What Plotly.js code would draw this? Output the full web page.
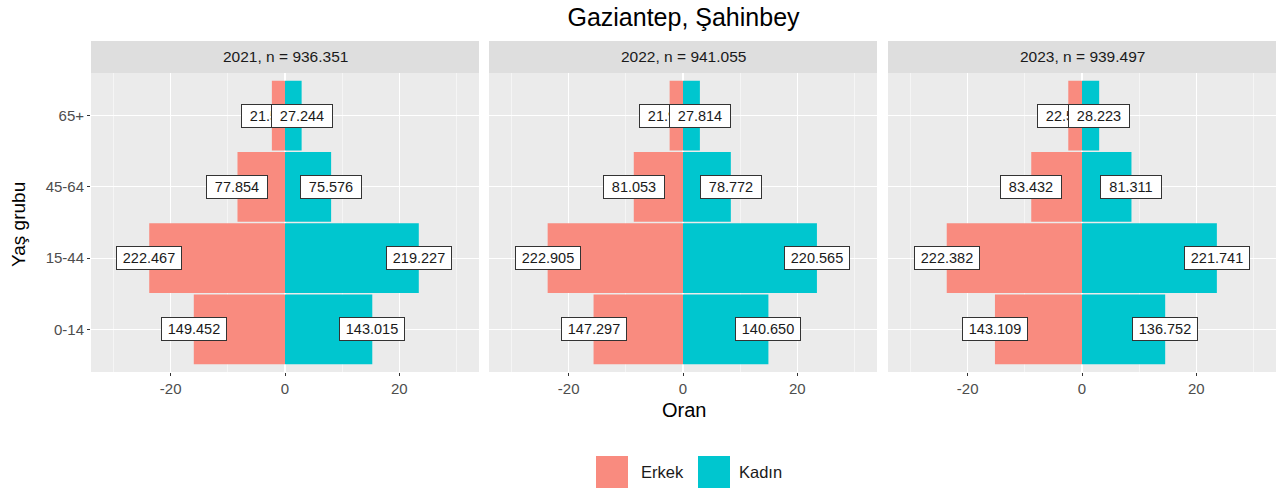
<!DOCTYPE html>
<html>
<head>
<meta charset="utf-8">
<script src="https://cdn.plot.ly/plotly-3.0.1.min.js"></script>
<style>html,body{margin:0;padding:0;background:#fff;}#chart{width:1279px;height:492px;}</style>
</head>
<body>
<div id="chart"></div>
<script>
// ---- data ----
const years = ["2021", "2022", "2023"];
const totals = [936351, 941055, 939497];
const totalLabels = ["936.351", "941.055", "939.497"];
const ageGroups = ["0-14", "15-44", "45-64", "65+"];
const male2021 = [149452, 222467, 77854, 21516];
const female2021 = [143015, 219227, 75576, 27244];
const male2022 = [147297, 222905, 81053, 21999];
const female2022 = [140650, 220565, 78772, 27814];
const male2023 = [143109, 222382, 83432, 22547];
const female2023 = [136752, 221741, 81311, 28223];
const maleLabels2021 = ["149.452", "222.467", "77.854", "21.516"];
const femaleLabels2021 = ["143.015", "219.227", "75.576", "27.244"];
const maleLabels2022 = ["147.297", "222.905", "81.053", "21.999"];
const femaleLabels2022 = ["140.650", "220.565", "78.772", "27.814"];
const maleLabels2023 = ["143.109", "222.382", "83.432", "22.547"];
const femaleLabels2023 = ["136.752", "221.741", "81.311", "28.223"];
const xTicks = [-20, 0, 20];

const maleData = [male2021, male2022, male2023];
const femaleData = [female2021, female2022, female2023];
const maleLabs = [maleLabels2021, maleLabels2022, maleLabels2023];
const femaleLabs = [femaleLabels2021, femaleLabels2022, femaleLabels2023];

const MALE = "#F98B7F", FEMALE = "#00C6CF";
const FONT = "Liberation Sans, Arial, Helvetica, sans-serif";
const W = 1279, H = 492;
const px = v => v / W;
const py = v => 1 - v / H;

const domains = [[px(91), px(479)], [px(489), px(877)], [px(888), px(1276)]];
const yDom = [py(372), py(73)];

const traces = [];
const annotations = [];
const shapes = [];
const layout = {
  width: W, height: H,
  margin: {l: 0, r: 0, t: 0, b: 0},
  paper_bgcolor: "#fff",
  plot_bgcolor: "#EBEBEB",
  barmode: "relative",
  bargap: 0.02,
  showlegend: false,
  font: {family: FONT, color: "#1A1A1A"},
  title: {text: "Gaziantep, Şahinbey", x: 683.5 / W, xanchor: "center", y: py(17), yanchor: "middle",
          font: {size: 25, family: FONT, color: "#000"}},
};

years.forEach((yr, i) => {
  const sx = i === 0 ? "" : String(i + 1);
  const xa = "x" + sx, ya = "y" + sx;
  const malePct = maleData[i].map(v => -v / totals[i] * 100);
  const femalePct = femaleData[i].map(v => v / totals[i] * 100);
  traces.push({type: "bar", orientation: "h", x: malePct, y: ageGroups, xaxis: xa, yaxis: ya,
               marker: {color: MALE}, name: "Erkek", hoverinfo: "skip"});
  traces.push({type: "bar", orientation: "h", x: femalePct, y: ageGroups, xaxis: xa, yaxis: ya,
               marker: {color: FEMALE}, name: "Kadın", hoverinfo: "skip"});
  layout["xaxis" + sx] = {
    domain: domains[i], anchor: ya, range: [-33.95, 33.95],
    tickvals: xTicks, ticktext: xTicks.map(String),
    showgrid: true, gridcolor: "#fff", gridwidth: 1.1,
    minor: {tickvals: [-30, -10, 10, 30], showgrid: true, gridcolor: "#fff", gridwidth: 0.5, ticks: ""},
    zeroline: false, ticks: "outside", ticklen: 3, tickcolor: "#333", tickwidth: 1,
    tickfont: {size: 15, color: "#4D4D4D", family: FONT}, showline: false, fixedrange: true
  };
  layout["yaxis" + sx] = {
    domain: yDom, anchor: xa, type: "category", categoryarray: ageGroups, categoryorder: "array",
    range: [-0.6, 3.6], showgrid: true, gridcolor: "#fff", gridwidth: 1.1, zeroline: false,
    showticklabels: i === 0, ticks: i === 0 ? "outside" : "", ticklen: 3, tickcolor: "#333", tickwidth: 1,
    tickfont: {size: 15, color: "#4D4D4D", family: FONT}, fixedrange: true
  };
  // strip
  shapes.push({type: "rect", xref: "paper", yref: "paper", x0: domains[i][0], x1: domains[i][1],
               y0: py(73), y1: py(41), fillcolor: "#DEDEDE", line: {width: 0}, layer: "below"});
  annotations.push({xref: "paper", yref: "paper", x: (domains[i][0] + domains[i][1]) / 2, y: py(57),
                    text: yr + ", n = " + totalLabels[i], showarrow: false,
                    font: {size: 15.5, color: "#1A1A1A", family: FONT}, xanchor: "center", yanchor: "middle"});
  // labels: male first, female on top
  const mkLabel = (xv, yv, t) => ({
    xref: xa, yref: ya, x: xv, y: yv, text: t, showarrow: false,
    font: {size: 14.5, color: "#1A1A1A", family: FONT},
    bgcolor: "#fff", bordercolor: "#333", borderwidth: 1, borderpad: 3,
    width: t.length >= 7 ? 58 : 54, align: "center", xanchor: "center", yanchor: "middle"
  });
  ageGroups.forEach((g, k) => annotations.push(mkLabel(malePct[k], g, maleLabs[i][k])));
  ageGroups.forEach((g, k) => annotations.push(mkLabel(femalePct[k], g, femaleLabs[i][k])));
});

// axis titles
annotations.push({xref: "paper", yref: "paper", x: 683.5 / W, y: py(410), text: "Oran", showarrow: false,
                  font: {size: 20, color: "#000", family: FONT}, xanchor: "center", yanchor: "middle"});
annotations.push({xref: "paper", yref: "paper", x: px(19), y: py(225), text: "Yaş grubu", showarrow: false,
                  textangle: -90, font: {size: 19, color: "#000", family: FONT}, xanchor: "center", yanchor: "middle"});

// legend
const legendItems = [{name: "Erkek", color: MALE, x0: 596, tx: 639}, {name: "Kadın", color: FEMALE, x0: 698, tx: 737}];
legendItems.forEach(it => {
  shapes.push({type: "rect", xref: "paper", yref: "paper", x0: px(it.x0), x1: px(it.x0 + 32),
               y0: py(488), y1: py(456), fillcolor: it.color, line: {width: 0}});
  annotations.push({xref: "paper", yref: "paper", x: px(it.tx), y: py(472), text: it.name, showarrow: false,
                    font: {size: 16.5, color: "#1A1A1A", family: FONT}, xanchor: "left", yanchor: "middle"});
});

layout.annotations = annotations;
layout.shapes = shapes;
Plotly.newPlot("chart", traces, layout, {displayModeBar: false, staticPlot: true});
</script>
</body>
</html>
